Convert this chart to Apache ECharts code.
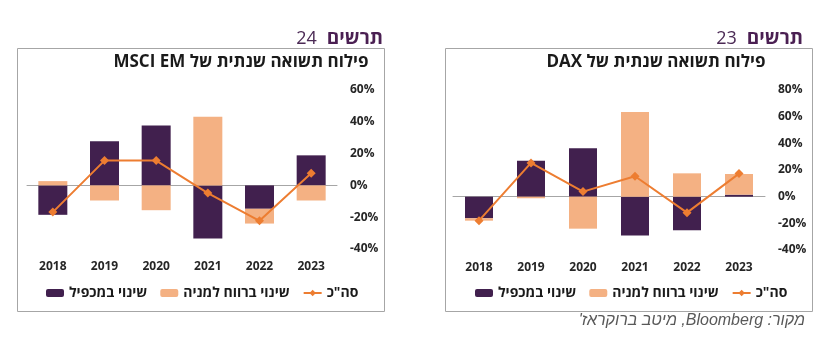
<!DOCTYPE html>
<html>
<head>
<meta charset="utf-8">
<script src="https://cdn.jsdelivr.net/npm/echarts@6/dist/echarts.min.js"></script>
<style>
  html, body { margin: 0; padding: 0; background: #fff; }
  #main { width: 839px; height: 352px; }
</style>
</head>
<body>
<div id="main"></div>
<script>
var years = ['2018', '2019', '2020', '2021', '2022', '2023'];

// chart 24 - MSCI EM
var emMultiple = [-18.5, 27.8, 37.7, -33.4, -14.7, 18.9];
var emEps = [2.7, -9.5, -15.6, 43.1, -9.3, -9.5];
var emTotal = [-16.8, 15.6, 15.6, -4.8, -22.3, 7.6];

// chart 23 - DAX
var daxMultiple = [-16.2, 27, 36.3, -29.2, -25.2, 1.5];
var daxEps = [-1.8, -1.2, -24, 63.5, 17.5, 15.5];
var daxTotal = [-18, 25.3, 3.8, 15.3, -12, 17.3];

var names = ['שינוי במכפיל', 'שינוי ברווח למניה', 'סה"כ'];

var purple = '#41204e', peach = '#f4b183', orange = '#ed7d31';
var font = "'Open Sans', 'Liberation Sans', 'DejaVu Sans', sans-serif";
var RLI = '\u2067', PDI = '\u2069';

var myChart = echarts.init(document.getElementById('main'));

function xAxes(grid) {
    return [{
        gridIndex: grid,
        type: 'category',
        data: years,
        axisLine: { show: false, onZero: false },
        axisTick: { show: false },
        axisLabel: { fontFamily: font, fontWeight: 'bold', fontSize: 12, color: '#262626', margin: 12 }
    }, {
        // zero line
        gridIndex: grid,
        type: 'category',
        data: years,
        axisLine: { show: true, onZero: true, lineStyle: { color: '#a6a6a6', width: 1 } },
        axisTick: { show: false },
        axisLabel: { show: false }
    }];
}

function yAxis(grid, max) {
    return {
        gridIndex: grid,
        type: 'value',
        position: 'right',
        min: -40,
        max: max,
        interval: 20,
        splitLine: { show: false },
        axisLine: { show: false },
        axisTick: { show: false },
        axisLabel: { formatter: '{value}%', fontFamily: font, fontWeight: 'bold', fontSize: 12, color: '#262626', margin: 13 }
    };
}

function seriesFor(idx, mult, eps, total, bw) {
    return [{
        name: names[0], type: 'bar', stack: 's' + idx,
        xAxisIndex: idx * 2, yAxisIndex: idx,
        barWidth: bw, itemStyle: { color: purple }, data: mult
    }, {
        name: names[1], type: 'bar', stack: 's' + idx,
        xAxisIndex: idx * 2, yAxisIndex: idx,
        barWidth: bw, itemStyle: { color: peach }, data: eps
    }, {
        name: names[2], type: 'line',
        xAxisIndex: idx * 2, yAxisIndex: idx,
        symbol: 'diamond', symbolSize: 9,
        lineStyle: { color: orange, width: 2 },
        itemStyle: { color: orange }, data: total
    }];
}

function legend(left) {
    return {
        left: left, top: 281,
        data: names.slice(0),
        itemWidth: 18, itemHeight: 8, itemGap: 13,
        textStyle: { fontFamily: font, fontWeight: 'bold', fontSize: 14, color: '#1a1a1a' }
    };
}

function chartTitle(right, num) {
    return {
        text: '{n|' + num + '}  {b|תרשים}',
        right: right, top: 24,
        textStyle: {
            rich: {
                n: { fontFamily: font, fontSize: 18, fontWeight: 'normal', color: '#4b2a55' },
                b: { fontFamily: font, fontSize: 19, fontWeight: 'bold', color: '#4a1f52' }
            }
        }
    };
}

var option = {
    animation: false,
    title: [chartTitle(451, '24'), chartTitle(31, '23')],
    legend: [legend(41), legend(470)],
    grid: [
        { left: 27, width: 310, top: 90, height: 159 },
        { left: 453, width: 312, top: 90, height: 160 }
    ],
    xAxis: xAxes(0).concat(xAxes(1)),
    yAxis: [yAxis(0, 60), yAxis(1, 80)],
    series: seriesFor(0, emMultiple, emEps, emTotal, 29)
        .concat(seriesFor(1, daxMultiple, daxEps, daxTotal, 28)),
    graphic: [
        { type: 'rect', shape: { x: 17.5, y: 48.5, width: 367, height: 263 },
          style: { fill: 'none', stroke: '#a6a6a6', lineWidth: 1 }, silent: true },
        { type: 'rect', shape: { x: 445.5, y: 48.5, width: 367, height: 263 },
          style: { fill: 'none', stroke: '#a6a6a6', lineWidth: 1 }, silent: true },
        { type: 'text', x: 241, y: 62,
          style: { text: RLI + 'פילוח תשואה שנתית של MSCI EM' + PDI, align: 'center', verticalAlign: 'middle',
                   font: 'bold 17px ' + font, fill: '#1a1a1a' } },
        { type: 'text', x: 656, y: 62,
          style: { text: RLI + 'פילוח תשואה שנתית של DAX' + PDI, align: 'center', verticalAlign: 'middle',
                   font: 'bold 17px ' + font, fill: '#1a1a1a' } },
        { type: 'text', x: 805, y: 321,
          style: { text: RLI + "מקור: Bloomberg, מיטב ברוקראז'" + PDI, align: 'right', verticalAlign: 'middle',
                   font: "italic 16px 'Liberation Sans', Arial, sans-serif", fill: '#595959' } }
    ]
};
myChart.setOption(option);
</script>
</body>
</html>
